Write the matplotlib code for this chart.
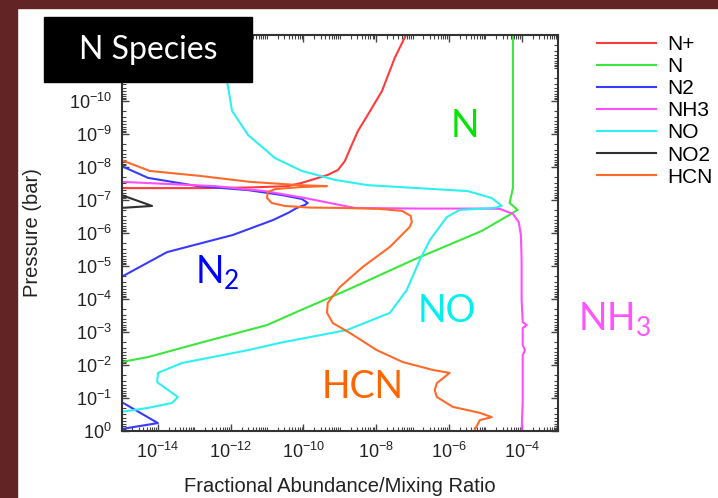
import numpy as np
import matplotlib
matplotlib.use("Agg")
import matplotlib.pyplot as plt
from matplotlib.patches import Rectangle
from matplotlib.ticker import FixedLocator, LogLocator, NullFormatter, LogFormatterSciNotation

plt.rcParams['font.family'] = ['Liberation Sans', 'DejaVu Sans']
plt.rcParams['mathtext.default'] = 'regular'

species = ['N+', 'N', 'N2', 'NH3', 'NO', 'NO2', 'HCN']
colors = ['#ff3b3b', '#3ce63c', '#3a3aff', '#ff4dff', '#2ef0f0', '#303030', '#ff6a2a']

# log10(mixing ratio) and log10(pressure / bar)
nplus_x = [-7.10, -7.18, -7.49, -7.84, -8.23, -8.50, -8.67, -8.86, -9.05, -9.33, -10.04, -10.43, -11.47, -12.84, -15.0, -16.0]
nplus_p = [-12.2, -12.0, -11.30, -10.30, -9.58, -9.09, -8.67, -8.18, -7.91, -7.76, -7.52, -7.42, -7.38, -7.36, -7.36, -7.36]

n_x = [-4.24, -4.24, -4.33, -4.11, -4.38, -5.10, -6.99, -8.80, -10.18, -11.0, -12.84, -14.27, -15.0, -15.5]
n_p = [-12.2, -7.36, -6.91, -6.70, -6.52, -6.06, -5.18, -4.27, -3.61, -3.21, -2.67, -2.24, -2.09, -2.0]

n2_x = [-15.5, -15.0, -14.0, -15.0, -16.0, -16.0, -15.0, -13.75, -11.94, -10.84, -10.40, -10.18, -9.96, -9.88,
        -10.04, -10.59, -11.52, -12.90, -14.27, -15.0, -15.5]
n2_p = [-0.02, -0.06, -0.24, -0.88, -1.2, -4.5, -4.67, -5.42, -5.94, -6.39, -6.62, -6.76, -6.85, -6.91,
        -7.03, -7.15, -7.30, -7.42, -7.67, -8.03, -8.2]

nh3_x = [-16.0, -15.0, -12.43, -11.06, -9.96, -9.00, -8.59, -6.80, -5.15, -4.60, -4.24, -4.08, -4.02, -4.00,
         -4.00, -3.97, -3.86, -3.97, -3.97, -3.91, -3.97, -3.97, -4.00]
nh3_p = [-7.58, -7.55, -7.42, -7.27, -7.06, -6.85, -6.76, -6.74, -6.74, -6.73, -6.58, -6.33, -5.94, -5.18,
         -3.97, -3.30, -3.21, -3.12, -2.61, -2.45, -2.30, -0.94, 0.05]

no_x = [-12.15, -12.10, -11.96, -11.52, -10.78, -10.04, -9.13, -8.23, -6.86, -5.48, -4.82, -4.55, -4.74,
        -5.70, -6.06, -6.52, -6.80, -7.16, -7.62, -8.80, -10.65, -11.52, -13.34, -14.0, -14.02, -13.45,
        -13.61, -14.27, -15.0, -15.5]
no_p = [-12.0, -10.61, -9.70, -8.97, -8.27, -7.88, -7.61, -7.45, -7.36, -7.27, -7.06, -6.82, -6.76,
        -6.70, -6.48, -5.79, -5.18, -4.27, -3.58, -3.06, -2.67, -2.45, -2.06, -1.76, -1.48, -1.03,
        -0.85, -0.70, -0.58, -0.5]

no2_x = [-15.5, -15.0, -14.16, -15.0, -15.5]
no2_p = [-7.2, -7.15, -6.82, -6.76, -6.74]

hcn_x = [-15.5, -15.0, -14.22, -12.84, -11.47, -10.10, -9.35, -10.10, -10.78, -10.98, -11.00, -10.87, -10.51,
         -9.82, -9.00, -7.90, -7.29, -7.05, -7.02, -7.08, -7.35, -7.62, -8.37, -9.00, -9.33, -9.35, -9.19,
         -8.72, -7.98, -7.27, -6.44, -5.98, -6.33, -6.39, -6.33, -5.89, -5.15, -4.82, -5.15, -5.29, -5.30]
hcn_p = [-8.35, -8.21, -7.88, -7.73, -7.55, -7.45, -7.42, -7.39, -7.33, -7.24, -7.06, -6.91, -6.82,
         -6.77, -6.76, -6.73, -6.67, -6.52, -6.33, -6.18, -5.88, -5.58, -4.97, -4.36, -3.88, -3.58, -3.27,
         -2.97, -2.45, -2.09, -1.85, -1.76, -1.45, -1.24, -1.03, -0.73, -0.55, -0.42, -0.33, -0.03, 0.05]

curves_x = [nplus_x, n_x, n2_x, nh3_x, no_x, no2_x, hcn_x]
curves_p = [nplus_p, n_p, n2_p, nh3_p, no_p, no2_p, hcn_p]

W, H = 718, 498
fig = plt.figure(figsize=(W / 100, H / 100), dpi=100)
fig.patch.set_facecolor('white')

ax = fig.add_axes([121.5 / W, 1 - 431 / H, 436.5 / W, 396 / H])

for name, xs, ps, c in zip(species, curves_x, curves_p, colors):
    ax.plot(10 ** np.array(xs), 10 ** np.array(ps), color=c, lw=1.5, label=name)

ax.set_xscale('log')
ax.set_yscale('log')
ax.set_xlim(1e-15, 1e-3)
ax.set_ylim(1e0, 1e-12)

ax.xaxis.set_major_locator(FixedLocator(10.0 ** np.arange(-14, -3, 2)))
ax.xaxis.set_major_formatter(LogFormatterSciNotation())
ax.xaxis.set_minor_locator(LogLocator(base=10, subs=np.arange(1, 10), numticks=100))
ax.xaxis.set_minor_formatter(NullFormatter())
# 10^-11 and 10^-12 sit behind the title box
ax.yaxis.set_major_locator(FixedLocator(10.0 ** np.arange(-10, 1)))
ax.yaxis.set_major_formatter(LogFormatterSciNotation())
ax.yaxis.set_minor_locator(LogLocator(base=10, subs=np.arange(1, 10), numticks=100))
ax.yaxis.set_minor_formatter(NullFormatter())

ax.tick_params(which='both', direction='in', top=True, right=True, color='#444444')
ax.tick_params(which='major', length=5, width=1.0, labelsize=13, labelcolor='#222222')
ax.tick_params(which='minor', length=3, width=0.8)
ax.tick_params(axis='y', which='major', pad=7)
ax.tick_params(axis='x', which='major', pad=8)
for s in ax.spines.values():
    s.set_color('#333333')
    s.set_linewidth(1.5)

ax.set_xlabel('Fractional Abundance/Mixing Ratio', fontsize=14.5, color='#222222')
ax.set_ylabel('Pressure (bar)', fontsize=14.5, color='#222222')
ax.xaxis.set_label_coords(0.5, -0.115)
ax.yaxis.set_label_coords(-0.182, 0.5)

fig.legend(loc='upper left', bbox_to_anchor=(597 / W, 1 - 35 / H), frameon=False, fontsize=15,
           handlelength=2.85, handletextpad=0.5, labelspacing=0.15, borderpad=0, borderaxespad=0)

# species labels inside / beside the plot
lab = dict(fontsize=27, family='Lato', ha='left', va='baseline', transform=ax.transAxes)
ax.text(0.753, 0.742, 'N', color='#00e600', **lab)
ax.text(0.168, 0.374, r'N$_\mathdefault{2}$', color='#0000ff', **lab)
ax.text(0.679, 0.275, 'NO', color='#00f0f0', **lab)
ax.text(1.046, 0.255, r'NH$_\mathdefault{3}$', color='#ff55ff', clip_on=False, **lab)
ax.text(0.459, 0.083, 'HCN', color='#ff6600', **lab)

# slide border and title box
fig.add_artist(Rectangle((0, 0), 17 / W, 1, transform=fig.transFigure, color='#622424', zorder=20))
fig.add_artist(Rectangle((0, 1 - 8 / H), 1, 8 / H, transform=fig.transFigure, color='#622424', zorder=20))
fig.add_artist(Rectangle((44 / W, 1 - 82 / H), 208 / W, 65 / H, transform=fig.transFigure,
                         color='black', zorder=10))
fig.text(148 / W, 1 - 50 / H, 'N Species', color='white', fontsize=23, family='Lato',
         ha='center', va='center', zorder=11)

fig.savefig('out.png', dpi=100)
